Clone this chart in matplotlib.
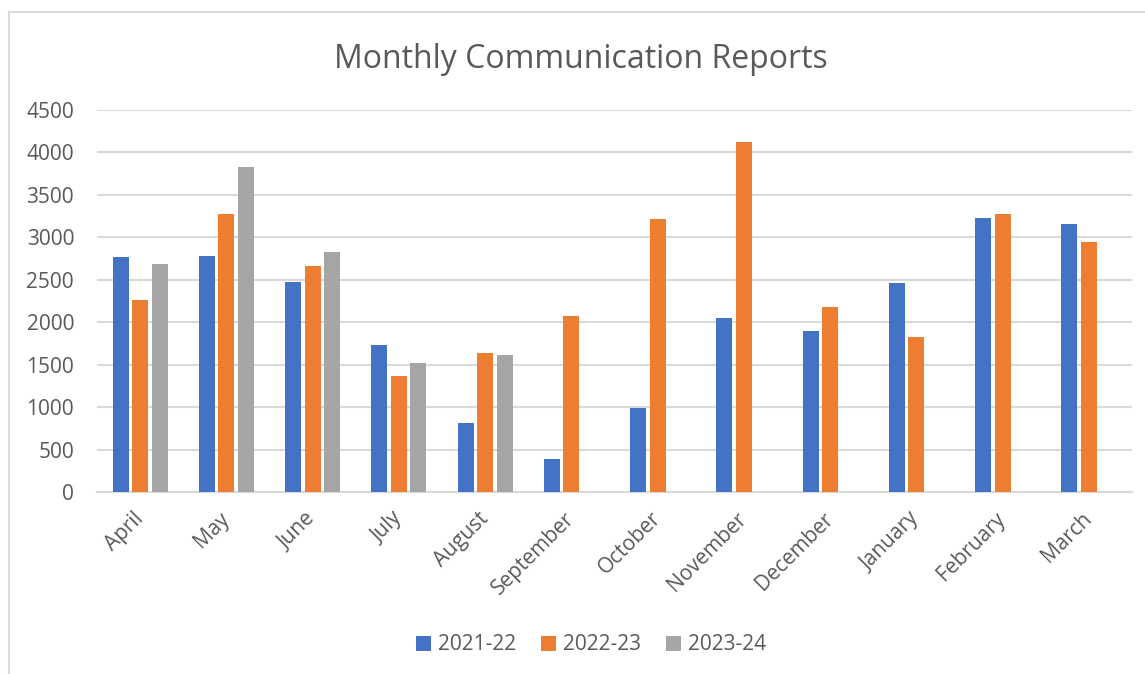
import matplotlib
matplotlib.use("Agg")
import matplotlib.pyplot as plt
import numpy as np
from matplotlib.lines import Line2D
from matplotlib.patches import Patch

months = ["April", "May", "June", "July", "August", "September", "October",
          "November", "December", "January", "February", "March"]
series_names = ["2021-22", "2022-23", "2023-24"]
s2021_22 = [2768, 2780, 2474, 1732, 813, 389, 990, 2050, 1897, 2462, 3228, 3157]
s2022_23 = [2262, 3275, 2662, 1367, 1638, 2073, 3216, 4123, 2179, 1826, 3275, 2945]
s2023_24 = [2686, 3829, 2827, 1520, 1614, None, None, None, None, None, None, None]
colors = ["#4472C4", "#ED7D31", "#A5A5A5"]
yticks = [0, 500, 1000, 1500, 2000, 2500, 3000, 3500, 4000, 4500]

W, H = 1145, 674
fig = plt.figure(figsize=(W / 100, H / 100), dpi=100)
plt.rcParams['font.family'] = ['Open Sans', 'DejaVu Sans']
txt = "#595959"

ax = fig.add_axes([97 / W, 1 - 492 / H, (1132 - 97) / W, (492 - 110) / H])
x = np.arange(len(months))
bw = 0.186
off = 0.226
for i, (vals, c) in enumerate(zip([s2021_22, s2022_23, s2023_24], colors)):
    xs = [xi + (i - 1) * off for xi, v in zip(x, vals) if v is not None]
    vs = [v for v in vals if v is not None]
    ax.bar(xs, vs, width=bw, color=c, zorder=3, label=series_names[i])

ax.set_xlim(-0.5, len(months) - 0.5)
ax.set_ylim(0, 4500)
ax.set_yticks(yticks)
ax.set_yticklabels([str(v) for v in yticks])
ax.grid(axis='y', color='#d9d9d9', linewidth=1.5, zorder=0)
ax.set_axisbelow(True)
for s in ['top', 'right', 'left']:
    ax.spines[s].set_visible(False)
ax.spines['bottom'].set_color('#d9d9d9')
ax.spines['bottom'].set_linewidth(1.5)
ax.tick_params(axis='both', length=0, colors=txt, labelsize=15)
ax.tick_params(axis='y', pad=16.5)
ax.set_xticks(x)
ax.set_xticklabels(months, rotation=45, ha='right', va='center', rotation_mode='anchor')
ax.tick_params(axis='x', pad=17)

fig.text(580.5 / W, 1 - 60 / H, "Monthly Communication Reports", ha='center', va='center',
         fontsize=23, color=txt)

handles = [Patch(facecolor=c, edgecolor='none') for c in colors]
leg = fig.legend(handles, series_names, loc='center', bbox_to_anchor=(591 / W, 1 - 645 / H),
                 ncol=3, frameon=False, fontsize=15, handlelength=0.7, handleheight=0.7,
                 handletextpad=0.35, columnspacing=1.2, labelcolor=txt)

# chart border (cropped at right and bottom)
fig.add_artist(Line2D([8.5 / W, 8.5 / W], [1 - 12 / H, 0], color='#d9d9d9', lw=1.5,
                      transform=fig.transFigure))
fig.add_artist(Line2D([8.5 / W, 1], [1 - 12 / H, 1 - 12 / H], color='#d9d9d9', lw=1.5,
                      transform=fig.transFigure))

fig.savefig("out.png", dpi=100, facecolor='white')
